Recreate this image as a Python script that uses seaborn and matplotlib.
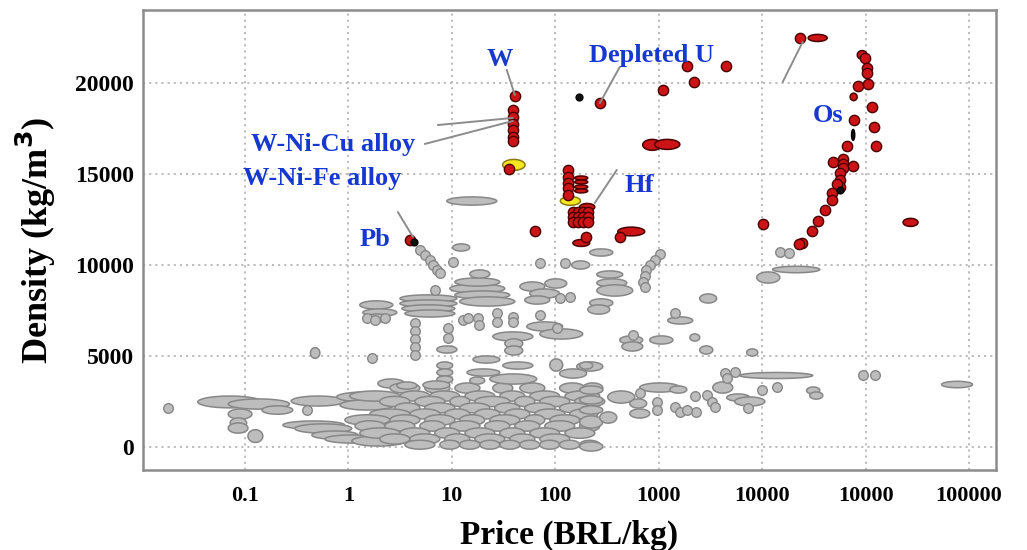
import numpy as np
import pandas as pd
import matplotlib
matplotlib.use("Agg")
import matplotlib.pyplot as plt
from matplotlib.ticker import LogLocator, MultipleLocator, NullFormatter
import seaborn as sns

# ---------------- data (price in BRL/kg, density in kg/m3) ----------------
# ranges: (price_lo, price_hi, dens_lo, dens_hi)
gray_left = [
    (0.035, 0.146, 2150, 2800), (0.069, 0.27, 2080, 2640), (0.146, 0.29, 1800, 2260),
    (0.28, 0.93, 2250, 2800), (0.77, 3.0, 2470, 3030), (0.83, 2.8, 2030, 2590),
    (0.069, 0.117, 1530, 2090), (0.072, 0.104, 1040, 1600), (0.069, 0.107, 760, 1320),
    (0.107, 0.149, 250, 950), (1.24, 3.5, 1150, 1650), (1.93, 3.5, 3240, 3740),
    (0.43, 0.53, 4870, 5460), (0.233, 0.925, 980, 1430), (0.304, 1.08, 760, 1270),
    (0.444, 1.24, 430, 880), (0.593, 1.93, 215, 660), (1.08, 3.52, 50, 610),
]

gray_band = [
    (2.52, 4.91, 2960, 3520), (5.48, 9.57, 2960, 3520), (10.7, 18.7, 2960, 3520),
    (24.9, 38.8, 2960, 3520), (45.4, 79.2, 2960, 3520), (110, 193, 2960, 3520),
    (184, 288, 2960, 3520),
    (1.03, 3.15, 2520, 3080), (3.15, 6.12, 2520, 3080), (6.12, 11.9, 2520, 3080),
    (13.4, 26.0, 2520, 3080), (29.1, 50.7, 2520, 3080), (56.7, 110, 2520, 3080),
    (124, 269, 2520, 3080),
    (2.01, 3.93, 2220, 2780), (4.39, 8.55, 2220, 2780), (9.57, 14.9, 2220, 2780),
    (16.7, 36.3, 2220, 2780), (40.6, 63.4, 2220, 2780), (70.8, 138, 2220, 2780),
    (154, 301, 2220, 2780),
    (2.81, 4.91, 1870, 2420), (5.48, 10.7, 1870, 2420), (11.9, 23.3, 1870, 2420),
    (26.0, 45.4, 1870, 2420), (50.7, 98.9, 1870, 2420), (110, 215, 1870, 2420),
    (1.61, 3.93, 1540, 2090), (3.93, 7.66, 1540, 2090), (8.55, 14.9, 1540, 2090),
    (16.7, 29.1, 1540, 2090), (32.5, 56.7, 1540, 2090), (63.4, 124, 1540, 2090),
    (138, 258, 1540, 2090),
    (0.925, 2.52, 1200, 1770), (2.52, 4.91, 1200, 1770), (5.48, 10.7, 1200, 1770),
    (11.9, 20.8, 1200, 1770), (23.3, 45.4, 1200, 1770), (50.7, 79.2, 1200, 1770),
    (88.5, 172, 1200, 1770),
    (1.16, 2.25, 870, 1440), (2.25, 4.39, 870, 1440), (4.91, 8.55, 870, 1440),
    (9.57, 18.7, 870, 1440), (20.8, 36.3, 870, 1440), (40.6, 70.8, 870, 1440),
    (79.2, 154, 870, 1440), (172, 269, 870, 1440),
    (1.29, 3.15, 480, 1050), (3.15, 6.12, 480, 1050), (6.85, 11.9, 480, 1050),
    (13.4, 26.0, 480, 1050), (29.1, 50.7, 480, 1050), (56.7, 110, 480, 1050),
    (124, 241, 480, 1050),
    (2.01, 3.93, 160, 720), (3.93, 7.66, 160, 720), (8.55, 14.9, 160, 720),
    (16.7, 32.5, 160, 720), (36.3, 63.4, 160, 720), (70.8, 138, 160, 720),
    (3.52, 6.85, -120, 370), (7.66, 11.9, -120, 370), (11.9, 18.7, -120, 370),
    (18.7, 29.1, -120, 370), (29.1, 45.4, -120, 370), (45.4, 70.8, -120, 370),
    (70.8, 110, -120, 370), (110, 172, -120, 370), (172, 269, -120, 370),
]

gray_mid = [
    (1.29, 2.69, 7580, 8030), (1.38, 2.94, 7190, 7590), (1.44, 2.52, 6860, 7310),
    (3.15, 11.2, 7960, 8360), (3.15, 11.2, 7690, 8080), (3.29, 10.7, 7410, 7810),
    (3.52, 10.7, 7140, 7530), (9.57, 32.5, 8455, 8960), (10.7, 36.3, 8130, 8575),
    (11.9, 40.6, 7740, 8250), (10.7, 29.1, 8840, 9290), (45.4, 79.2, 8565, 9070),
    (56.7, 110, 8180, 8685), (50.7, 88.5, 7850, 8300), (79.2, 129, 8730, 9240),
    (24.9, 60.7, 5820, 6325), (32.5, 48.5, 5435, 5940), (32.5, 48.5, 5050, 5555),
    (53.1, 118, 6370, 6875), (70.8, 184, 5930, 6490), (7.16, 11.2, 5160, 5555),
    (16.0, 29.1, 4610, 5005), (10.2, 14.9, 10765, 11160), (14.9, 23.3, 9280, 9730),
    (144, 215, 9775, 10225), (215, 360, 10490, 10885), (252, 449, 9280, 9675),
    (252, 491, 8790, 9240), (252, 561, 8290, 8910), (215, 360, 7690, 8140),
    (206, 336, 7300, 7810), (8.95, 27.2, 13290, 13740),
    (88.5, 118, 4170, 4840), (161, 288, 4170, 4675), (110, 201, 3785, 4290),
    (23.3, 66.2, 3455, 4015), (31.1, 60.7, 4280, 4675), (14.0, 29.1, 3895, 4290),
    (14.9, 20.8, 3455, 3850), (7.16, 10.2, 4280, 4675), (7.16, 10.2, 3895, 4290),
    (7.16, 10.2, 3510, 3905), (2.94, 4.59, 3180, 3575), (5.25, 9.57, 3180, 3630),
]

gray_right = [
    (2490, 3630, 7910, 8410), (1220, 2130, 6755, 7150), (420, 700, 5655, 6105),
    (440, 700, 5270, 5775), (818, 1370, 5655, 6105), (2000, 2490, 5820, 6215),
    (2490, 3330, 5105, 5555), (7080, 9060, 4995, 5390), (8850, 14800, 9005, 9620),
    (12600, 36000, 9575, 9930), (6070, 30800, 3760, 4095), (542000, 1080000, 3255, 3610),
    (26900, 36000, 2905, 3300), (28800, 38500, 2630, 3025), (4540, 7570, 2520, 2915),
    (5420, 10600, 2250, 2750), (3330, 5190, 2960, 3575), (655, 1600, 3015, 3520),
    (1280, 1870, 2960, 3355), (321, 586, 2410, 3080), (525, 765, 2140, 2640),
    (525, 818, 1590, 2090), (172, 288, 2905, 3355), (172, 288, 2360, 2810),
    (172, 288, 1810, 2260), (172, 288, 1040, 1710), (269, 393, 1310, 1930),
    (172, 288, -225, 280), (172, 230, 4280, 4675),
]

gray_dot_price = [0.018, 0.397, 1.69, 6.85, 10.2, 70.8, 124,
                  4.91, 5.48, 6.12, 6.55, 7.16, 7.66,
                  4.39, 4.39, 4.39, 4.39, 4.39, 9.15, 9.15,
                  12.8, 14.3, 17.8, 18.2, 27.2, 27.2, 38.8, 38.8, 70.8, 103, 110, 138,
                  1.51, 1.80, 2.25,
                  1020, 914, 818, 748, 732, 700, 732, 1430, 561,
                  4340, 5420, 4540, 13800, 9890, 7240, 2230, 2280, 1430, 1600, 1870,
                  957, 957, 655, 2910, 3250, 3480, 93500, 122000, 14800, 18000]
gray_dot_dens = [2140, 2030, 4890, 8625, 10165, 10110, 10110,
                 10825, 10550, 10275, 10000, 9725, 9560,
                 6815, 6375, 5935, 5495, 5055, 6540, 5990,
                 6980, 7090, 7090, 6700, 7360, 6870, 7145, 6870, 7250, 6540, 8190, 8240,
                 7090, 6980, 7090,
                 10600, 10275, 10000, 9725, 9400, 9065, 8790, 7360, 6155,
                 4065, 4120, 3790, 3295, 3130, 2140, 2800, 1920, 2200, 1920, 2030,
                 2470, 2030, 2965, 2855, 2470, 2200, 3955, 3955, 10715, 10660]

red_ranges = [
    (700, 1070, 16300, 16900), (914, 1600, 16350, 16900), (402, 732, 11600, 12080),
    (27800, 42500, 22280, 22670), (230000, 321000, 12120, 12560),
    (70800, 82800, 19030, 19440), (83000, 103000, 21300, 21780),
    (172, 241, 12990, 13380), (148, 215, 11020, 11400),
    (154, 206, 14670, 14890), (154, 206, 14450, 14670),
    (154, 206, 14180, 14400), (154, 206, 13960, 14180),
]
yellow_ranges = [(31, 51, 15200, 15800), (112, 175, 13280, 13760)]
black_ranges = [(73000, 78500, 16850, 17450)]

red_dot_price = [40.6, 38.8, 38.8, 38.8, 38.8, 38.8, 38.8, 35.6,
                 270, 1090, 1870, 2180, 4490,
                 134, 134, 134, 134, 134,
                 148, 165, 185, 206, 148, 165, 185, 206, 148, 165, 185, 206,
                 199, 63, 420, 3.93, 23300, 10200,
                 98900, 103000, 103000, 84700, 106000, 116000, 77400, 121000, 126000,
                 66200, 75700, 48500, 60700, 60700, 60700, 56800, 56800, 56800, 53100,
                 47400, 47400, 40600, 34800, 30400, 24300, 22500]
red_dot_dens = [19290, 18520, 18130, 17750, 17420, 17030, 16810, 15280,
                18900, 19620, 20940, 20060, 20940,
                15220, 14840, 14510, 14230, 13850,
                12910, 12910, 12910, 12910, 12640, 12640, 12640, 12640, 12360, 12360, 12360, 12360,
                11540, 11870, 11540, 11375, 22470, 12250,
                21375, 20825, 20550, 19840, 19950, 18680, 17970, 17580, 16540,
                16540, 15440, 15660, 15830, 15550, 15330, 15060, 14670, 14290, 14450,
                13960, 13570, 13020, 12420, 11870, 11210, 11150]
black_dot_price = [171, 4.30, 56000]
black_dot_dens = [19230, 11265, 14100]

# annotation texts, positions and leader lines (price, density)
labels = ["W", "Depleted U", "W-Ni-Cu alloy", "W-Ni-Fe alloy", "Pb", "Hf", "Os"]
label_price = [29.1, 855, 0.72, 0.555, 1.80, 655, 43000]
label_dens = [21270, 21485, 16595, 14727, 11375, 14340, 18190]
leader_lines = [
    ((40.6, 19340), (34.0, 20715)),
    ((38.8, 18080), (7.33, 17690)),
    ((38.8, 17910), (5.48, 16650)),
    ((270, 18900), (420, 20880)),
    ((241, 13410), (393, 15220)),
    ((4.21, 11540), (3.01, 12910)),
    ((24600, 22250), (15800, 20060)),
]

x_tick_values = [0.1, 1, 10, 100, 1000, 10000, 100000, 1000000]
x_tick_labels = ["0.1", "1", "10", "100", "1000", "10000", "10000", "100000"]
y_tick_values = [0, 5000, 10000, 15000, 20000]

# ---------------- drawing ----------------
sns.set_theme(style="white")
plt.rcParams["font.family"] = ["Liberation Serif", "DejaVu Serif"]
plt.rcParams["font.weight"] = "bold"

fig = plt.figure(figsize=(10.27, 5.5), dpi=100)
ax = fig.add_axes([143 / 1027, 80 / 550, 853 / 1027, 460 / 550])
ax.set_xscale("log")
ax.set_xlim(10 ** -1.985, 10 ** 6.26)
ax.set_ylim(-1264, 24010)

t = np.linspace(0, 2 * np.pi, 72)


def draw_ranges(ranges, face, edge, lw=1.1, z=2):
    for plo, phi, dlo, dhi in ranges:
        cx = (np.log10(plo) + np.log10(phi)) / 2
        rx = (np.log10(phi) - np.log10(plo)) / 2
        cy = (dlo + dhi) / 2
        ry = (dhi - dlo) / 2
        ax.fill(10 ** (cx + rx * np.cos(t)), cy + ry * np.sin(t),
                facecolor=face, edgecolor=edge, linewidth=lw, zorder=z)


gface, gedge = "#bdbdbd", "#878787"
for grp in (gray_left, gray_band, gray_mid, gray_right):
    draw_ranges(grp, gface, gedge)

gray_df = pd.DataFrame({"price": gray_dot_price, "density": gray_dot_dens})
sns.scatterplot(data=gray_df, x="price", y="density", ax=ax, s=48,
                color=gface, edgecolor=gedge, linewidth=1.0, zorder=3, legend=False)

draw_ranges(yellow_ranges, "#f4e81e", "#8a7a10", lw=1.1, z=4)
draw_ranges(red_ranges, "#cc1416", "#4a0000", lw=1.1, z=5)
draw_ranges(black_ranges, "#111111", "#000000", lw=1.0, z=6)

red_df = pd.DataFrame({"price": red_dot_price, "density": red_dot_dens})
sns.scatterplot(data=red_df, x="price", y="density", ax=ax, s=55,
                color="#cc1416", edgecolor="#4a0000", linewidth=1.0, zorder=5, legend=False)
black_df = pd.DataFrame({"price": black_dot_price, "density": black_dot_dens})
sns.scatterplot(data=black_df, x="price", y="density", ax=ax, s=26,
                color="#111111", edgecolor="#000000", linewidth=0.8, zorder=6, legend=False)

for (p0, d0), (p1, d1) in leader_lines:
    ax.plot([p0, p1], [d0, d1], color="#8c8c8c", lw=1.4, zorder=7)

for txt, px, dy in zip(labels, label_price, label_dens):
    ax.text(px, dy, txt, color="#1638d0", fontsize=19, fontweight="bold",
            ha="center", va="center", zorder=8)

# grid, ticks, frame
ax.set_xticks(x_tick_values)
ax.set_xticklabels(x_tick_labels)
ax.set_yticks(y_tick_values)
ax.xaxis.set_minor_locator(LogLocator(base=10, subs=np.arange(2, 10), numticks=20))
ax.xaxis.set_minor_formatter(NullFormatter())
ax.yaxis.set_minor_locator(MultipleLocator(1000))
ax.grid(True, which="major", color="#b8b8b8", linestyle=(0, (1.2, 2.2)), linewidth=1.3)
ax.set_axisbelow(True)
ax.tick_params(axis="both", which="major", direction="inout", length=5, width=1,
               color="#8a8a8a", labelcolor="black")
ax.tick_params(axis="both", which="minor", direction="inout", length=3, width=0.8,
               color="#8a8a8a")
ax.tick_params(axis="x", which="major", labelsize=16, pad=9)
ax.tick_params(axis="y", which="major", labelsize=17, pad=4)
for lab in ax.get_xticklabels() + ax.get_yticklabels():
    lab.set_fontweight("bold")
for sp in ax.spines.values():
    sp.set_color("#8c8c8c")
    sp.set_linewidth(1.8)

ax.set_xlabel("Price (BRL/kg)", fontsize=24, fontweight="bold", labelpad=10, color="black")
ax.set_ylabel("Density (kg/m$^\\mathbf{3}$)", fontsize=26, fontweight="bold", labelpad=12,
              color="black")

fig.savefig("out.png", dpi=100)
